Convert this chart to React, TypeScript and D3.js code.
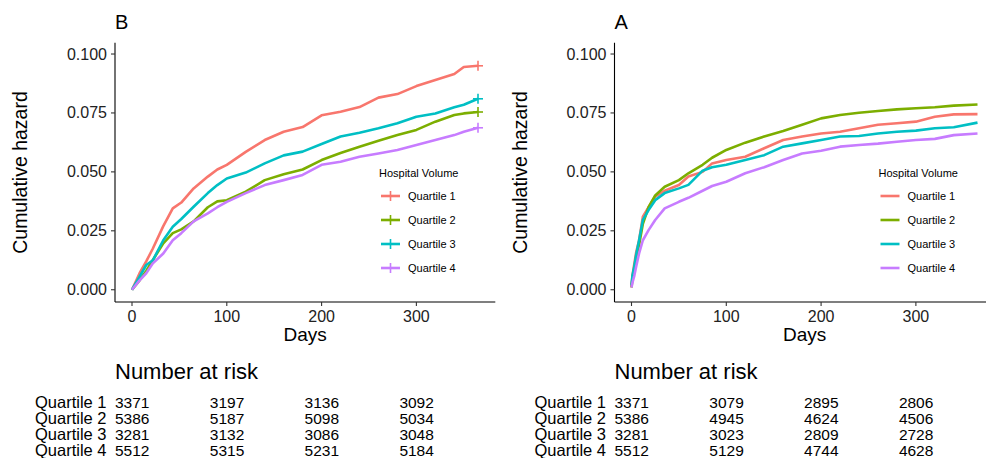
import React, { useEffect } from "react";
import * as d3 from "d3";

const groups = ["Quartile 1", "Quartile 2", "Quartile 3", "Quartile 4"];
const colors = ["#F8766D", "#7CAE00", "#00BFC4", "#C77CFF"];
const yTicks = [0, 0.025, 0.05, 0.075, 0.1];
const xTicks = [0, 100, 200, 300];
const riskTimes = [0, 100, 200, 300];

// Panel B (left)
const daysB = [0, 8, 15, 22, 33, 43, 52, 65, 80, 90, 100, 120, 140, 160, 180, 200, 220, 240, 260, 280, 300, 320, 340, 350, 365];
const bQ1 = [0, 0.007, 0.012, 0.0175, 0.027, 0.0345, 0.037, 0.043, 0.048, 0.051, 0.053, 0.0585, 0.0635, 0.067, 0.069, 0.074, 0.0755, 0.0775, 0.0815, 0.083, 0.0864, 0.089, 0.0915, 0.0945, 0.095];
const bQ2 = [0, 0.004, 0.008, 0.0126, 0.0197, 0.024, 0.0256, 0.029, 0.035, 0.0375, 0.038, 0.0416, 0.0465, 0.049, 0.051, 0.055, 0.058, 0.0607, 0.0632, 0.0656, 0.0678, 0.0713, 0.0741, 0.0748, 0.0754];
const bQ3 = [0, 0.0055, 0.0105, 0.0125, 0.021, 0.0267, 0.030, 0.0352, 0.041, 0.0444, 0.0472, 0.0497, 0.0536, 0.057, 0.0586, 0.0618, 0.065, 0.0666, 0.0685, 0.0706, 0.0734, 0.0748, 0.0774, 0.0785, 0.081];
const bQ4 = [0, 0.004, 0.007, 0.0112, 0.0154, 0.021, 0.024, 0.029, 0.0324, 0.035, 0.0373, 0.041, 0.0444, 0.0465, 0.0487, 0.053, 0.0543, 0.0564, 0.0578, 0.0593, 0.0614, 0.0635, 0.0656, 0.067, 0.0687];

// Panel A (right)
const daysA = [0, 1, 3, 5, 8, 12, 18, 25, 35, 50, 60, 75, 85, 100, 120, 140, 160, 180, 200, 220, 240, 260, 280, 300, 320, 340, 365];
const aQ1 = [0.001, 0.006, 0.011, 0.016, 0.021, 0.031, 0.035, 0.0395, 0.042, 0.0444, 0.048, 0.050, 0.0536, 0.055, 0.0564, 0.060, 0.0635, 0.065, 0.0663, 0.067, 0.0685, 0.070, 0.0706, 0.0713, 0.0734, 0.0744, 0.0745];
const aQ2 = [0.001, 0.005, 0.009, 0.014, 0.019, 0.028, 0.035, 0.040, 0.0437, 0.0465, 0.0494, 0.053, 0.056, 0.0593, 0.0624, 0.065, 0.0673, 0.070, 0.0727, 0.0741, 0.0751, 0.0758, 0.0765, 0.077, 0.0774, 0.0781, 0.0786];
const aQ3 = [0.002, 0.006, 0.010, 0.015, 0.021, 0.0296, 0.0338, 0.038, 0.041, 0.043, 0.0445, 0.0505, 0.052, 0.053, 0.055, 0.0571, 0.0607, 0.0621, 0.0635, 0.065, 0.0652, 0.0663, 0.067, 0.0675, 0.0685, 0.0689, 0.0709];
const aQ4 = [0.001, 0.003, 0.006, 0.010, 0.0154, 0.021, 0.0253, 0.0296, 0.0345, 0.0373, 0.039, 0.042, 0.044, 0.0458, 0.0494, 0.052, 0.055, 0.0578, 0.059, 0.0607, 0.0614, 0.062, 0.0628, 0.0635, 0.064, 0.0656, 0.0663];

const riskB = [
  [3371, 3197, 3136, 3092],
  [5386, 5187, 5098, 5034],
  [3281, 3132, 3086, 3048],
  [5512, 5315, 5231, 5184],
];
const riskA = [
  [3371, 3079, 2895, 2806],
  [5386, 4945, 4624, 4506],
  [3281, 3023, 2809, 2728],
  [5512, 5129, 4744, 4628],
];

const FONT = "'Liberation Sans', Arial, Helvetica, sans-serif";

type PanelProps = {
  x0: number;
  letter: string;
  days: number[];
  series: number[][];
  risk: number[][];
  censor: boolean;
};

function Panel({ x0, letter, days, series, risk, censor }: PanelProps) {
  const axisLeft = x0 + 115;
  const xScale = d3.scaleLinear().domain([-18.25, 383.25]).range([x0 + 114.7, x0 + 495.3]);
  const yScale = d3.scaleLinear().domain([-0.0052, 0.1048]).range([302, 42.7]);
  const line = d3
    .line<[number, number]>()
    .x((d) => xScale(d[0]))
    .y((d) => yScale(d[1]))
    .curve(d3.curveLinear);
  const legX = x0 + 379;
  const legKeyX0 = x0 + 381;
  const legKeyX1 = x0 + 400;
  const legTextX = x0 + 408;
  const legY = [196, 220, 244, 268];
  const rowY = [408, 424, 440, 456];
  return (
    <g>
      <text x={axisLeft} y={29} fontSize={20} fontFamily={FONT} fill="#000">
        {letter}
      </text>
      {series.map((s, i) => {
        const pts: [number, number][] = days.map((d, j) => [d, s[j]]);
        const last = pts[pts.length - 1];
        return (
          <g key={i}>
            <path d={line(pts) || ""} fill="none" stroke={colors[i]} strokeWidth={2.6} strokeLinejoin="round" />
            {censor && (
              <g stroke={colors[i]} strokeWidth={1.6}>
                <line x1={xScale(last[0]) - 5} x2={xScale(last[0]) + 5} y1={yScale(last[1])} y2={yScale(last[1])} />
                <line x1={xScale(last[0])} x2={xScale(last[0])} y1={yScale(last[1]) - 5} y2={yScale(last[1]) + 5} />
              </g>
            )}
          </g>
        );
      })}
      <line x1={axisLeft} x2={axisLeft} y1={42.7} y2={302} stroke="#000" strokeWidth={1.1} />
      <line x1={axisLeft} x2={xScale(383.25)} y1={302} y2={302} stroke="#000" strokeWidth={1.1} />
      {yTicks.map((t) => (
        <g key={t}>
          <line x1={axisLeft - 4} x2={axisLeft} y1={yScale(t)} y2={yScale(t)} stroke="#333" strokeWidth={1.1} />
          <text x={axisLeft - 8} y={yScale(t) + 5.5} textAnchor="end" fontSize={16} fontFamily={FONT} fill="#222">
            {d3.format(".3f")(t)}
          </text>
        </g>
      ))}
      {xTicks.map((t) => (
        <g key={t}>
          <line x1={xScale(t)} x2={xScale(t)} y1={302} y2={306} stroke="#333" strokeWidth={1.1} />
          <text x={xScale(t)} y={322} textAnchor="middle" fontSize={16} fontFamily={FONT} fill="#222">
            {t}
          </text>
        </g>
      ))}
      <text x={(axisLeft + xScale(383.25)) / 2} y={341} textAnchor="middle" fontSize={19} fontFamily={FONT} fill="#000">
        Days
      </text>
      <text
        transform={`translate(${x0 + 27},${172.5}) rotate(-90)`}
        textAnchor="middle"
        fontSize={19.5}
        fontFamily={FONT}
        fill="#000"
      >
        Cumulative hazard
      </text>
      <text x={legX} y={177} fontSize={11} fontFamily={FONT} fill="#000">
        Hospital Volume
      </text>
      {groups.map((g, i) => (
        <g key={g}>
          <line x1={legKeyX0} x2={legKeyX1} y1={legY[i]} y2={legY[i]} stroke={colors[i]} strokeWidth={2.6} />
          {censor && (
            <line
              x1={(legKeyX0 + legKeyX1) / 2}
              x2={(legKeyX0 + legKeyX1) / 2}
              y1={legY[i] - 5}
              y2={legY[i] + 5}
              stroke={colors[i]}
              strokeWidth={1.6}
            />
          )}
          <text x={legTextX} y={legY[i] + 4} fontSize={11} fontFamily={FONT} fill="#000">
            {g}
          </text>
        </g>
      ))}
      <text x={xScale(0) - 17} y={379} fontSize={22} fontFamily={FONT} fill="#000">
        Number at risk
      </text>
      {groups.map((g, i) => (
        <g key={g}>
          <text x={xScale(0) - 97} y={rowY[i]} fontSize={16.5} fontFamily={FONT} fill="#000">
            {g}
          </text>
          {riskTimes.map((t, j) => (
            <text key={t} x={xScale(t) - 17} y={rowY[i]} fontSize={15.5} fontFamily={FONT} fill="#000">
              {risk[i][j]}
            </text>
          ))}
        </g>
      ))}
    </g>
  );
}

export default function App() {
  useEffect(() => {
    document.body.style.margin = "0";
  }, []);
  return (
    <svg width={986} height={458} style={{ display: "block", background: "#fff" }}>
      <rect width={986} height={458} fill="#fff" />
      <Panel x0={0} letter="B" days={daysB} series={[bQ1, bQ2, bQ3, bQ4]} risk={riskB} censor={true} />
      <Panel x0={499.5} letter="A" days={daysA} series={[aQ1, aQ2, aQ3, aQ4]} risk={riskA} censor={false} />
    </svg>
  );
}
